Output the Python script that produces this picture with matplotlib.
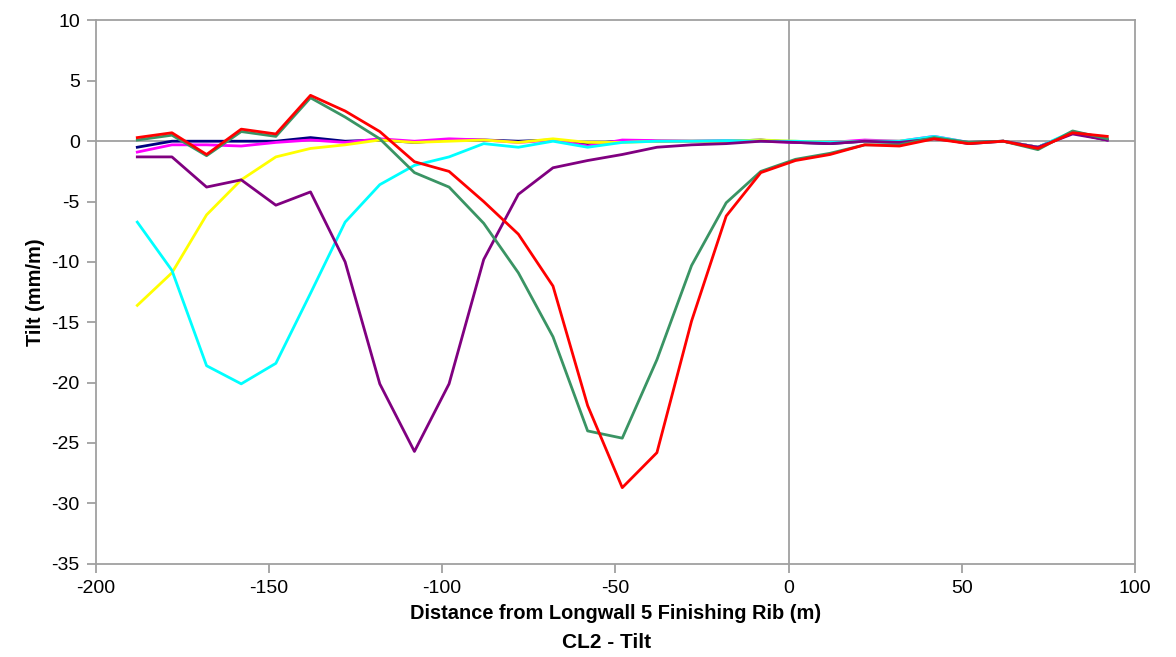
"""
    CL2 tilt profiles along the centreline, Longwall 5.
"""

import numpy as np
import matplotlib
matplotlib.use("Agg")
import matplotlib.pyplot as plt

plt.rcParams["font.family"] = ["Liberation Sans", "DejaVu Sans"]
plt.rcParams["axes.unicode_minus"] = False

# distance from finishing rib (m)
distance = list(range(-188, 93, 10))

tilt_navy = [-0.5, 0.0, 0.0, 0.0, 0.0, 0.3, 0.0, 0.1, -0.1, 0.1, 0.1, 0.0, 0.1, -0.2, 0.0,
             0.0, 0.0, 0.0, 0.1, -0.1, -0.2, 0.0, -0.1, 0.3, -0.2, 0.0, -0.5, 0.7, 0.1]
tilt_magenta = [-0.9, -0.3, -0.3, -0.4, -0.1, 0.1, -0.1, 0.2, 0.0, 0.2, 0.1, -0.1, 0.1, -0.4, 0.1,
                0.05, 0.0, 0.05, 0.0, -0.1, -0.1, 0.1, 0.0, 0.4, -0.1, 0.0, -0.5, 0.7, 0.1]
tilt_yellow = [-13.6, -10.9, -6.1, -3.2, -1.3, -0.6, -0.3, 0.1, -0.1, 0.0, 0.1, -0.1, 0.2, -0.1, -0.1,
               0.0, 0.0, 0.0, 0.1, 0.0, -0.1, 0.0, 0.0, 0.3, -0.1, 0.0, -0.5, 0.7, 0.2]
tilt_cyan = [-6.7, -10.7, -18.6, -20.1, -18.4, -12.6, -6.7, -3.6, -2.0, -1.3, -0.2, -0.5, 0.0, -0.5, -0.1,
             0.0, 0.0, 0.05, 0.0, 0.0, -0.1, 0.0, 0.0, 0.4, -0.1, 0.0, -0.5, 0.8, 0.2]
tilt_purple = [-1.3, -1.3, -3.8, -3.2, -5.3, -4.2, -10.0, -20.1, -25.7, -20.1, -9.8, -4.4, -2.2, -1.6, -1.1,
               -0.5, -0.3, -0.2, 0.0, -0.1, -0.2, 0.0, -0.1, 0.2, -0.1, 0.0, -0.5, 0.6, 0.1]
tilt_green = [0.1, 0.5, -1.2, 0.8, 0.4, 3.6, 2.0, 0.2, -2.6, -3.8, -6.8, -10.9, -16.2, -24.0, -24.6,
              -18.1, -10.3, -5.1, -2.5, -1.5, -1.0, -0.3, -0.3, 0.3, -0.1, 0.0, -0.7, 0.85, 0.2]
tilt_red = [0.3, 0.7, -1.1, 1.0, 0.6, 3.8, 2.5, 0.8, -1.7, -2.5, -5.0, -7.7, -12.0, -21.9, -28.7,
            -25.8, -14.9, -6.2, -2.6, -1.6, -1.1, -0.3, -0.4, 0.2, -0.2, 0.0, -0.6, 0.7, 0.4]

series = [
    (tilt_navy, "#000080"),
    (tilt_magenta, "#ff00ff"),
    (tilt_yellow, "#ffff00"),
    (tilt_cyan, "#00ffff"),
    (tilt_purple, "#800080"),
    (tilt_green, "#3a9464"),
    (tilt_red, "#ff0000"),
]

fig = plt.figure(figsize=(11.76, 6.57), dpi=100)
ax = fig.add_axes([0.0814, 0.142, 0.8837, 0.8268])

ax.axhline(0, color="#a0a0a0", lw=1.3, zorder=1)
ax.axvline(0, color="#a0a0a0", lw=1.3, zorder=1)

for values, colour in series:
    ax.plot(distance, values, color=colour, lw=2, zorder=2)

ax.set_xlim(-200, 100)
ax.set_ylim(-35, 10)
ax.set_xticks(np.arange(-200, 101, 50))
ax.set_yticks(np.arange(-35, 11, 5))

for spine in ax.spines.values():
    spine.set_color("#a0a0a0")
    spine.set_linewidth(1.3)
ax.tick_params(direction="out", length=6.5, width=1.3, color="#a0a0a0",
               labelsize=14, pad=5)

ax.set_xlabel("Distance from Longwall 5 Finishing Rib (m)", fontsize=14.4,
              fontweight="bold", labelpad=5)
ax.set_ylabel("Tilt (mm/m)", fontsize=14.4, fontweight="bold", labelpad=5)
fig.text(0.516, 0.022, "CL2 - Tilt", fontsize=15, fontweight="bold",
         ha="center", va="center")

plt.savefig("out.png", dpi=100)
